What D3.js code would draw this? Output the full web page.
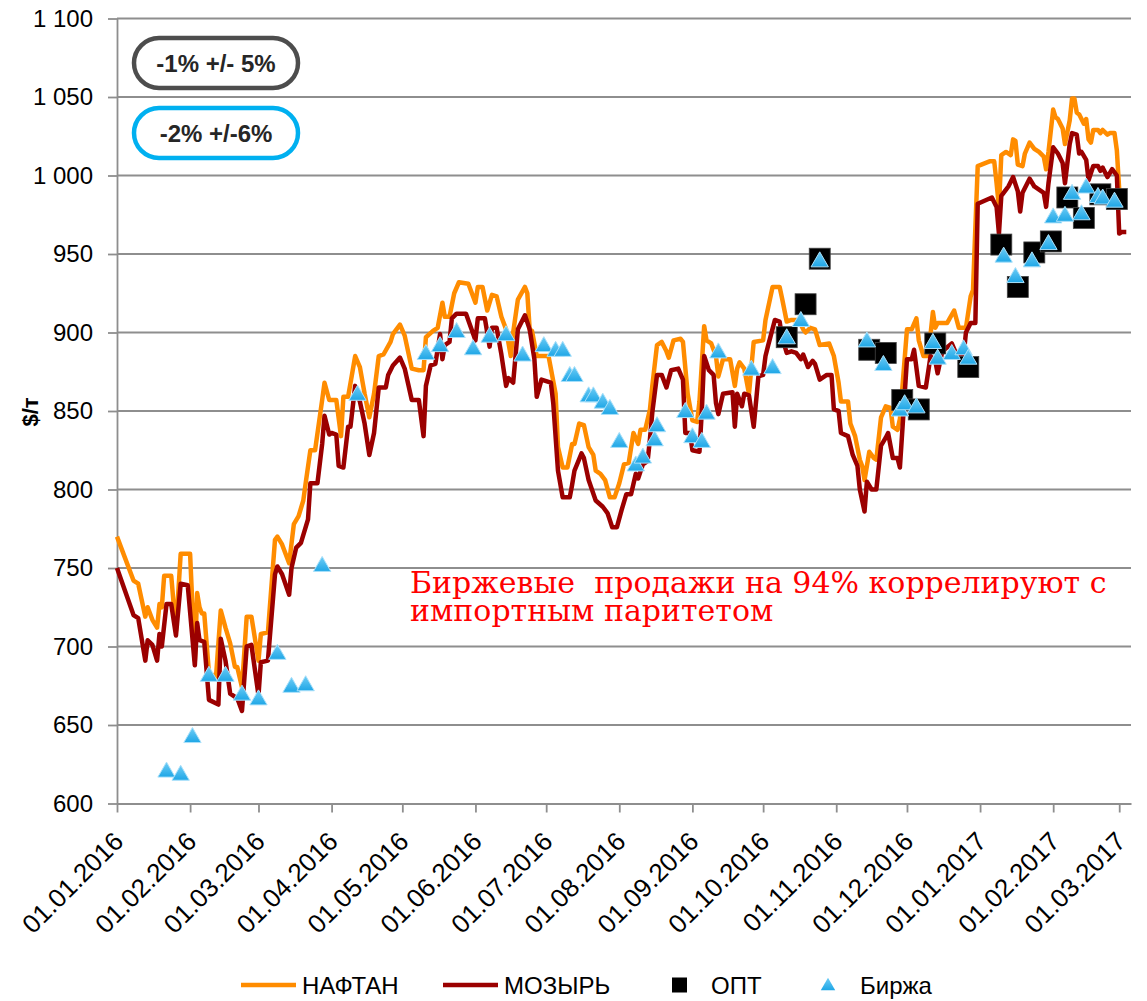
<!DOCTYPE html>
<html>
<head>
<meta charset="utf-8">
<script src="https://cdn.jsdelivr.net/npm/d3@7"></script>
<style>
  body { margin: 0; background: #fff; }
</style>
</head>
<body>
<div id="chart"></div>
<script>
// daily prices, $/т
var naftan = [
  ["2016-01-01",770],["2016-01-08",742],["2016-01-10",740],["2016-01-13",719],["2016-01-14",725],["2016-01-16",717],
  ["2016-01-18",712],["2016-01-19",727],["2016-01-20",725],["2016-01-21",745],["2016-01-24",745],["2016-01-26",710],
  ["2016-01-28",759],["2016-02-01",759],["2016-02-03",691],["2016-02-04",734],["2016-02-05",725],["2016-02-06",721],
  ["2016-02-07",721],["2016-02-09",683],["2016-02-12",681],["2016-02-14",723],["2016-02-16",712],["2016-02-18",702],
  ["2016-02-20",687],["2016-02-21",687],["2016-02-23",674],["2016-02-25",719],["2016-02-27",719],["2016-03-01",691],
  ["2016-03-02",708],["2016-03-05",709],["2016-03-08",768],["2016-03-09",770],["2016-03-11",765],["2016-03-14",753],
  ["2016-03-16",778],["2016-03-18",783],["2016-03-20",793],["2016-03-21",804],["2016-03-23",825],["2016-03-25",825],
  ["2016-03-28",857],["2016-03-29",868],["2016-03-31",857],["2016-04-03",857],["2016-04-05",834],["2016-04-06",859],
  ["2016-04-08",859],["2016-04-11",885],["2016-04-13",878],["2016-04-15",861],["2016-04-17",846],["2016-04-19",861],
  ["2016-04-21",885],["2016-04-23",886],["2016-04-26",894],["2016-04-27",899],["2016-04-30",905],["2016-05-02",898],
  ["2016-05-05",877],["2016-05-08",876],["2016-05-10",876],["2016-05-11",897],["2016-05-14",901],["2016-05-16",903],
  ["2016-05-18",919],["2016-05-19",910],["2016-05-21",910],["2016-05-23",925],["2016-05-25",932],["2016-05-29",931],
  ["2016-06-01",919],["2016-06-02",929],["2016-06-04",929],["2016-06-06",914],["2016-06-08",924],["2016-06-10",923],
  ["2016-06-12",910],["2016-06-14",902],["2016-06-16",885],["2016-06-17",900],["2016-06-19",921],["2016-06-22",929],
  ["2016-06-23",925],["2016-06-24",902],["2016-06-25",901],["2016-06-27",885],["2016-07-02",885],["2016-07-05",861],
  ["2016-07-06",827],["2016-07-08",814],["2016-07-10",814],["2016-07-12",829],["2016-07-13",829],["2016-07-15",842],
  ["2016-07-17",841],["2016-07-19",827],["2016-07-21",822],["2016-07-22",812],["2016-07-24",810],["2016-07-26",806],
  ["2016-07-28",795],["2016-07-30",795],["2016-08-01",804],["2016-08-03",816],["2016-08-05",817],["2016-08-07",836],
  ["2016-08-09",829],["2016-08-10",838],["2016-08-12",838],["2016-08-14",851],["2016-08-15",866],["2016-08-17",892],
  ["2016-08-19",894],["2016-08-21",888],["2016-08-22",884],["2016-08-24",895],["2016-08-27",896],["2016-08-28",894],
  ["2016-08-30",861],["2016-09-01",844],["2016-09-03",843],["2016-09-04",856],["2016-09-06",904],["2016-09-07",895],
  ["2016-09-09",893],["2016-09-11",885],["2016-09-12",872],["2016-09-14",883],["2016-09-17",883],["2016-09-19",866],
  ["2016-09-20",877],["2016-09-21",881],["2016-09-23",877],["2016-09-25",861],["2016-09-27",894],["2016-10-01",895],
  ["2016-10-02",908],["2016-10-05",929],["2016-10-08",929],["2016-10-09",922],["2016-10-11",907],["2016-10-13",908],
  ["2016-10-16",908],["2016-10-18",902],["2016-10-19",900],["2016-10-21",903],["2016-10-23",902],["2016-10-25",892],
  ["2016-10-29",893],["2016-10-31",885],["2016-11-02",868],["2016-11-03",856],["2016-11-06",856],["2016-11-07",842],
  ["2016-11-09",834],["2016-11-11",819],["2016-11-12",815],["2016-11-13",806],["2016-11-15",824],["2016-11-17",820],
  ["2016-11-18",819],["2016-11-20",846],["2016-11-22",853],["2016-11-24",852],["2016-11-25",840],["2016-11-27",838],
  ["2016-11-28",845],["2016-12-01",902],["2016-12-03",902],["2016-12-05",909],["2016-12-06",895],["2016-12-08",885],
  ["2016-12-10",885],["2016-12-12",913],["2016-12-13",903],["2016-12-14",906],["2016-12-18",906],["2016-12-21",914],
  ["2016-12-23",903],["2016-12-26",903],["2016-12-28",923],["2016-12-29",927],["2016-12-31",1006],["2017-01-05",1009],
  ["2017-01-07",1009],["2017-01-08",995],["2017-01-09",980],["2017-01-10",1013],["2017-01-12",1015],["2017-01-14",1013],
  ["2017-01-15",1023],["2017-01-16",1022],["2017-01-17",1007],["2017-01-19",1006],["2017-01-20",1014],["2017-01-22",1021],
  ["2017-01-24",1017],["2017-01-26",1015],["2017-01-28",1012],["2017-01-29",1004],["2017-01-30",1015],["2017-02-01",1042],
  ["2017-02-02",1037],["2017-02-03",1036],["2017-02-05",1030],["2017-02-06",1020],["2017-02-08",1035],["2017-02-09",1049],
  ["2017-02-10",1049],["2017-02-11",1040],["2017-02-12",1039],["2017-02-14",1033],["2017-02-15",1036],["2017-02-16",1023],
  ["2017-02-17",1021],["2017-02-18",1029],["2017-02-20",1029],["2017-02-21",1027],["2017-02-22",1029],["2017-02-24",1026],
  ["2017-02-25",1027],["2017-02-27",1027],["2017-02-28",1016],["2017-03-01",991],["2017-03-02",988],["2017-03-04",988]
];

var mozyr = [
  ["2016-01-01",750],["2016-01-08",720],["2016-01-10",718],["2016-01-13",691],["2016-01-14",704],["2016-01-16",701],
  ["2016-01-18",691],["2016-01-19",708],["2016-01-20",700],["2016-01-22",727],["2016-01-24",727],["2016-01-26",707],
  ["2016-01-28",740],["2016-01-31",739],["2016-02-03",688],["2016-02-04",715],["2016-02-05",704],["2016-02-07",703],
  ["2016-02-09",666],["2016-02-13",663],["2016-02-14",705],["2016-02-16",691],["2016-02-18",670],["2016-02-21",667],
  ["2016-02-23",659],["2016-02-25",700],["2016-02-27",701],["2016-03-01",669],["2016-03-02",690],["2016-03-05",691],
  ["2016-03-08",746],["2016-03-09",751],["2016-03-11",746],["2016-03-14",733],["2016-03-15",750],["2016-03-17",763],
  ["2016-03-19",766],["2016-03-22",781],["2016-03-23",804],["2016-03-26",804],["2016-03-28",829],["2016-03-29",847],
  ["2016-03-31",835],["2016-04-01",836],["2016-04-03",835],["2016-04-04",815],["2016-04-06",814],["2016-04-08",840],
  ["2016-04-09",840],["2016-04-11",866],["2016-04-13",856],["2016-04-15",842],["2016-04-17",822],["2016-04-19",836],
  ["2016-04-21",865],["2016-04-24",865],["2016-04-25",873],["2016-04-27",879],["2016-04-30",884],["2016-05-02",877],
  ["2016-05-05",857],["2016-05-08",857],["2016-05-10",834],["2016-05-11",866],["2016-05-13",879],["2016-05-15",880],
  ["2016-05-17",899],["2016-05-18",883],["2016-05-19",892],["2016-05-21",894],["2016-05-22",909],["2016-05-24",912],
  ["2016-05-28",912],["2016-06-01",895],["2016-06-02",909],["2016-06-05",909],["2016-06-07",891],["2016-06-08",903],
  ["2016-06-10",903],["2016-06-12",886],["2016-06-14",866],["2016-06-15",871],["2016-06-17",868],["2016-06-19",902],
  ["2016-06-22",911],["2016-06-24",902],["2016-06-26",883],["2016-06-27",859],["2016-06-29",870],["2016-07-03",868],
  ["2016-07-04",855],["2016-07-06",812],["2016-07-08",795],["2016-07-11",795],["2016-07-12",803],["2016-07-13",812],
  ["2016-07-16",823],["2016-07-17",820],["2016-07-19",806],["2016-07-22",793],["2016-07-25",789],["2016-07-27",785],
  ["2016-07-29",776],["2016-07-31",776],["2016-08-02",787],["2016-08-04",797],["2016-08-06",797],["2016-08-08",810],
  ["2016-08-09",807],["2016-08-11",816],["2016-08-13",818],["2016-08-14",832],["2016-08-15",849],["2016-08-17",873],
  ["2016-08-19",873],["2016-08-21",865],["2016-08-23",876],["2016-08-26",877],["2016-08-28",870],["2016-08-29",836],
  ["2016-08-31",836],["2016-09-01",825],["2016-09-04",824],["2016-09-05",850],["2016-09-06",885],["2016-09-08",876],
  ["2016-09-10",873],["2016-09-11",855],["2016-09-12",848],["2016-09-14",861],["2016-09-18",862],["2016-09-19",840],
  ["2016-09-20",861],["2016-09-22",853],["2016-09-23",861],["2016-09-25",860],["2016-09-27",840],["2016-09-29",872],
  ["2016-10-01",873],["2016-10-02",885],["2016-10-03",891],["2016-10-06",908],["2016-10-08",907],["2016-10-09",897],
  ["2016-10-11",887],["2016-10-13",888],["2016-10-15",887],["2016-10-17",883],["2016-10-18",886],["2016-10-20",878],
  ["2016-10-22",882],["2016-10-23",880],["2016-10-25",870],["2016-10-28",873],["2016-10-30",873],["2016-10-31",851],
  ["2016-11-02",850],["2016-11-03",836],["2016-11-06",834],["2016-11-08",822],["2016-11-10",815],["2016-11-11",800],
  ["2016-11-13",786],["2016-11-14",805],["2016-11-16",800],["2016-11-18",800],["2016-11-20",828],["2016-11-22",833],
  ["2016-11-23",836],["2016-11-25",820],["2016-11-27",820],["2016-11-28",814],["2016-12-01",883],["2016-12-03",883],
  ["2016-12-04",889],["2016-12-06",866],["2016-12-09",865],["2016-12-11",885],["2016-12-13",882],["2016-12-14",874],
  ["2016-12-16",888],["2016-12-20",893],["2016-12-22",886],["2016-12-25",885],["2016-12-26",900],["2016-12-28",906],
  ["2016-12-30",906],["2016-12-31",982],["2017-01-06",986],["2017-01-08",980],["2017-01-09",963],["2017-01-10",987],
  ["2017-01-12",991],["2017-01-13",993],["2017-01-15",999],["2017-01-17",990],["2017-01-18",977],["2017-01-19",989],
  ["2017-01-22",998],["2017-01-24",993],["2017-01-26",991],["2017-01-28",989],["2017-01-29",980],["2017-01-30",995],
  ["2017-02-01",1018],["2017-02-03",1014],["2017-02-05",1008],["2017-02-06",995],["2017-02-08",1020],["2017-02-09",1027],
  ["2017-02-11",1026],["2017-02-12",1014],["2017-02-13",1015],["2017-02-15",1010],["2017-02-16",997],["2017-02-18",1006],
  ["2017-02-20",1006],["2017-02-21",1003],["2017-02-22",1005],["2017-02-24",999],["2017-02-26",1004],["2017-02-28",1000],
  ["2017-03-01",963],["2017-03-02",964],["2017-03-04",964]
];

// weekly wholesale deals
var opt = [
  ["2016-10-11",897],["2016-10-19",918],["2016-10-25",947],["2016-11-15",889],["2016-11-22",887],["2016-11-29",857],
  ["2016-12-06",851],["2016-12-13",893],["2016-12-27",878],["2017-01-10",956],["2017-01-17",929],["2017-01-24",951],
  ["2017-01-31",958],["2017-02-07",986],["2017-02-14",973],["2017-02-21",988],["2017-02-28",985]
];

// exchange sales
var birzha = [
  ["2016-01-22",620],["2016-01-28",618],["2016-02-02",642],["2016-02-09",681],["2016-02-16",681],["2016-02-23",669],
  ["2016-03-01",666],["2016-03-09",695],["2016-03-15",674],["2016-03-21",675],["2016-03-28",751],["2016-04-12",860],
  ["2016-05-11",886],["2016-05-17",891],["2016-05-24",900],["2016-05-31",889],["2016-06-07",897],["2016-06-14",898],
  ["2016-06-21",885],["2016-06-30",891],["2016-07-05",888],["2016-07-08",888],["2016-07-11",872],["2016-07-13",872],
  ["2016-07-19",859],["2016-07-21",859],["2016-07-25",855],["2016-07-28",851],["2016-08-01",830],["2016-08-08",815],
  ["2016-08-11",820],["2016-08-16",831],["2016-08-17",840],["2016-08-29",849],["2016-09-01",833],["2016-09-05",830],
  ["2016-09-07",848],["2016-09-12",887],["2016-09-26",876],["2016-10-05",877],["2016-10-11",896],["2016-10-17",907],
  ["2016-10-25",945],["2016-11-14",894],["2016-11-21",879],["2016-11-28",850],["2016-11-30",854],["2016-12-05",852],
  ["2016-12-12",893],["2016-12-14",883],["2016-12-20",886],["2016-12-25",889],["2016-12-27",883],["2017-01-11",948],
  ["2017-01-16",935],["2017-01-23",945],["2017-01-30",956],["2017-02-01",973],["2017-02-06",974],["2017-02-09",988],
  ["2017-02-13",975],["2017-02-15",992],["2017-02-20",986],["2017-02-22",985],["2017-02-27",983]
];

var yTicks = [600, 650, 700, 750, 800, 850, 900, 950, 1000, 1050, 1100];
var badges = [
  {label: "-1% +/- 5%", color: "#4d4d4d"},
  {label: "-2% +/-6%", color: "#00b0f0"}
];
var noteLines = ["Биржевые  продажи на 94% коррелируют с", "импортным паритетом"];

var width = 1147, height = 1001;
var plotLeft = 117, plotRight = 1131, plotTop = 18.5, plotBottom = 803.5;
var sans = "Liberation Sans, Arial, sans-serif";

var parse = d3.timeParse("%Y-%m-%d");
var x = d3.scaleTime()
  .domain([parse("2016-01-01"), parse("2017-03-06")])
  .range([plotLeft, plotRight]);
var y = d3.scaleLinear().domain([600, 1100]).range([plotBottom, plotTop]);

var ru = d3.formatLocale({decimal: ",", thousands: " ", grouping: [3], currency: ["", ""]});
var fmtY = ru.format(",");

var svg = d3.select("#chart").append("svg")
  .attr("width", width)
  .attr("height", height)
  .style("background", "#fff")
  .style("font-family", sans);

// horizontal grid
svg.append("g")
  .selectAll("line")
  .data(yTicks.filter(function(d) { return d > 600; }))
  .enter().append("line")
    .attr("x1", plotLeft).attr("x2", plotRight)
    .attr("y1", function(d) { return y(d); })
    .attr("y2", function(d) { return y(d); })
    .attr("stroke", "#8e8e8e")
    .attr("stroke-width", 1.8);

// axes
var yAxis = svg.append("g")
  .attr("transform", "translate(" + plotLeft + ",0)")
  .call(d3.axisLeft(y).tickValues(yTicks).tickSize(9).tickSizeOuter(0).tickPadding(15).tickFormat(fmtY));
yAxis.selectAll("text")
  .style("font-size", "24px").style("font-family", sans).attr("fill", "#000");

var xAxis = svg.append("g")
  .attr("transform", "translate(0," + plotBottom + ")")
  .call(d3.axisBottom(x).ticks(d3.timeMonth.every(1)).tickSize(9).tickSizeOuter(0)
    .tickFormat(d3.timeFormat("%d.%m.%Y")));
xAxis.selectAll("text")
  .style("font-size", "26px").style("font-family", sans).attr("fill", "#000")
  .attr("text-anchor", "end")
  .attr("y", 0).attr("dy", "0.35em")
  .attr("transform", "translate(1,33) rotate(-45)");

svg.selectAll(".domain, .tick line").attr("stroke", "#8e8e8e").attr("stroke-width", 1.8);

// y title
svg.append("text")
  .attr("transform", "translate(38,412) rotate(-90)")
  .attr("text-anchor", "middle")
  .style("font-size", "22px")
  .style("font-weight", "bold")
  .text("$/т");

// price lines
var line = d3.line()
  .x(function(d) { return x(parse(d[0])); })
  .y(function(d) { return y(d[1]); });

svg.append("path").datum(naftan)
  .attr("d", line)
  .attr("fill", "none").attr("stroke", "#ff8c00")
  .attr("stroke-width", 4.5).attr("stroke-linejoin", "round");

svg.append("path").datum(mozyr)
  .attr("d", line)
  .attr("fill", "none").attr("stroke", "#9b0000")
  .attr("stroke-width", 4.5).attr("stroke-linejoin", "round");

// ОПТ squares
svg.append("g").selectAll("rect")
  .data(opt)
  .enter().append("rect")
    .attr("x", function(d) { return x(parse(d[0])) - 10.5; })
    .attr("y", function(d) { return y(d[1]) - 10.5; })
    .attr("width", 21).attr("height", 21)
    .attr("fill", "#000")
    .attr("stroke", "#444").attr("stroke-width", 0.8);

// Биржа triangles
var defs = svg.append("defs");
var grad = defs.append("linearGradient").attr("id", "tri").attr("x1", 0).attr("y1", 0).attr("x2", 0).attr("y2", 1);
grad.append("stop").attr("offset", "0%").attr("stop-color", "#6fcdf6");
grad.append("stop").attr("offset", "100%").attr("stop-color", "#1ea6e6");

var tri = d3.symbol().type(d3.symbolTriangle).size(130);
svg.append("g").selectAll("path")
  .data(birzha)
  .enter().append("path")
    .attr("transform", function(d) { return "translate(" + x(parse(d[0])) + "," + y(d[1]) + ")"; })
    .attr("d", tri)
    .attr("fill", "url(#tri)")
    .attr("stroke", "#a9e0fa").attr("stroke-width", 1);

// badges
var badge = svg.append("g").selectAll("g")
  .data(badges)
  .enter().append("g")
    .attr("transform", function(d, i) { return "translate(134," + (38 + i * 70) + ")"; });
badge.append("rect")
  .attr("width", 164).attr("height", 50).attr("rx", 25).attr("ry", 25)
  .attr("fill", "#fff")
  .attr("stroke", function(d) { return d.color; })
  .attr("stroke-width", 4.5);
badge.append("text")
  .attr("x", 82).attr("y", 25).attr("dy", "0.36em")
  .attr("text-anchor", "middle")
  .style("font-size", "24px").style("font-weight", "bold")
  .attr("fill", "#262626")
  .text(function(d) { return d.label; });

// red note
svg.append("g").selectAll("text")
  .data(noteLines)
  .enter().append("text")
    .attr("x", 410)
    .attr("y", function(d, i) { return 593 + i * 28; })
    .style("font-family", "DejaVu Serif, serif")
    .style("font-size", "30px")
    .style("white-space", "pre")
    .attr("fill", "#ff0000")
    .text(function(d) { return d; });

// legend
var legend = svg.append("g").attr("transform", "translate(0,985)");
var lg = [
  {label: "НАФТАН", type: "line", color: "#ff8c00", x: 241},
  {label: "МОЗЫРЬ", type: "line", color: "#9b0000", x: 443},
  {label: "ОПТ", type: "square", color: "#000", x: 672},
  {label: "Биржа", type: "tri", color: "url(#tri)", x: 820}
];
lg.forEach(function(d) {
  if (d.type == "line") {
    legend.append("line").attr("x1", d.x).attr("x2", d.x + 55)
      .attr("stroke", d.color).attr("stroke-width", 4.5);
    legend.append("text").attr("x", d.x + 61).attr("dy", "0.36em")
      .style("font-size", "24px").text(d.label);
  } else if (d.type == "square") {
    legend.append("rect").attr("x", d.x).attr("y", -7.5).attr("width", 15).attr("height", 15)
      .attr("fill", d.color);
    legend.append("text").attr("x", d.x + 39).attr("dy", "0.36em")
      .style("font-size", "24px").text(d.label);
  } else {
    legend.append("path").attr("transform", "translate(" + (d.x + 8) + ",1)")
      .attr("d", d3.symbol().type(d3.symbolTriangle).size(90))
      .attr("fill", d.color);
    legend.append("text").attr("x", d.x + 40).attr("dy", "0.36em")
      .style("font-size", "24px").text(d.label);
  }
});
</script>
</body>
</html>
